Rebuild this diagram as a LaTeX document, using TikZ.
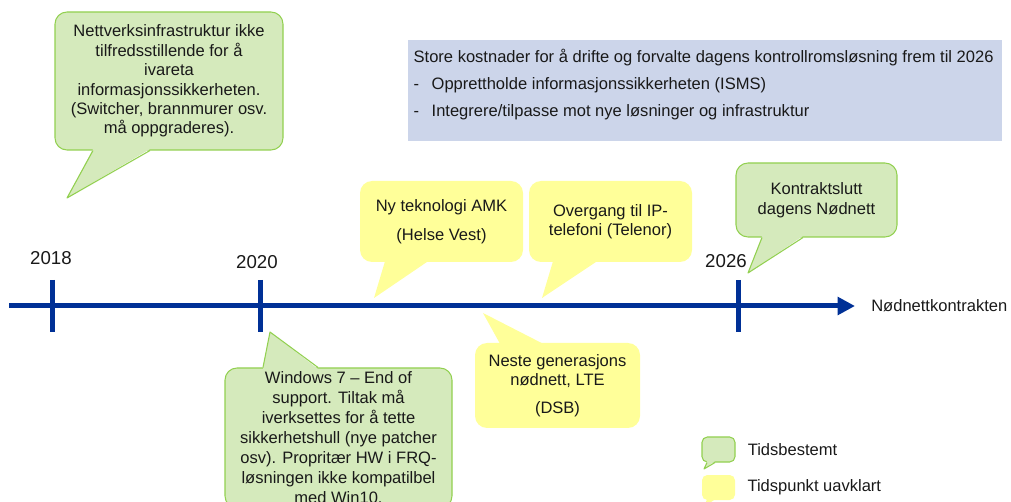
\documentclass[tikz,border=0pt]{standalone}
\usepackage{fontspec}
\setmainfont{Liberation Sans}
\usetikzlibrary{positioning, calc, arrows.meta}
\definecolor{tidsgreen}{RGB}{146,208,80}
\definecolor{tidsfill}{RGB}{213,234,188}
\definecolor{uavfill}{RGB}{255,255,153}
\definecolor{costblue}{RGB}{204,213,234}
\definecolor{lineblue}{RGB}{0,48,150}
\definecolor{textgray}{RGB}{25,25,25}

\begin{document}
\begin{tikzpicture}[
    x=0.75pt, y=-0.75pt,
    font=\fontsize{12.4}{14.6}\selectfont, text=textgray,
    tidsbox/.style={rectangle, draw=tidsgreen, fill=tidsfill, line width=0.8pt, rounded corners=9pt, align=center, inner sep=2pt},
    uavbox/.style={rectangle, fill=uavfill, rounded corners=9pt, align=center, inner sep=2pt},
    costbox/.style={rectangle, fill=costblue, minimum width=445.5pt, minimum height=75.75pt, inner xsep=4.25pt, inner ysep=3.9pt},
    tidstail/.style={fill=tidsfill},
    tidsedge/.style={draw=tidsgreen, line width=0.8pt, line join=round},
    uavtail/.style={fill=uavfill},
    plainlabel/.style={inner sep=0pt},
    yearlabel/.style={inner sep=0pt, font=\fontsize{14}{16}\selectfont},
    tickline/.style={lineblue, line width=3.75pt},
    timeline/.style={lineblue, line width=3.75pt, -{Triangle[length=13pt, width=13pt]}}
]
    \useasboundingbox (0,0) rectangle (1011,502);
    \clip (0,0) rectangle (1011,502);

    % tidslinje
    \coordinate (tlstart) at (9,306);
    \coordinate (tlend) at (855,306);
    \coordinate (t2018) at (52,306);
    \coordinate (t2020) at (260,306);
    \coordinate (t2026) at (738,306);
    \draw[timeline] (tlstart) -- (tlend);
    \draw[tickline] ($(t2018)+(0,-26)$) -- ($(t2018)+(0,26)$);
    \draw[tickline] ($(t2020)+(0,-26)$) -- ($(t2020)+(0,26)$);
    \draw[tickline] ($(t2026)+(0,-26)$) -- ($(t2026)+(0,26)$);
    \node[yearlabel] (y2018) at (51,258) {2018};
    \node[yearlabel] (y2020) at (257,262) {2020};
    \node[yearlabel] (y2026) at (726,261) {2026};
    \node[plainlabel, right=12pt of tlend] (kontrakt) {Nødnettkontrakten};

    % kostnader
    \node[costbox] (cost) at (705,90.5) {\parbox[c][68pt][t]{437pt}{\rule{0pt}{13pt}Store kostnader for å drifte og forvalte dagens kontrollromsløsning frem til 2026\\[5.5pt]
        \makebox[13.5pt][l]{-}Opprettholde informasjonssikkerheten (ISMS)\\[5.5pt]
        \makebox[13.5pt][l]{-}Integrere/tilpasse mot nye løsninger og infrastruktur}};

    % boblene over linjen
    \node[tidsbox, minimum width=171pt, minimum height=103.5pt] (netbox) at (169,81) {Nettverksinfrastruktur ikke\\tilfredsstillende for å\\ivareta\\informasjonssikkerheten.\\(Switcher, brannmurer osv.\\må oppgraderes).};
    \coordinate (nettip) at (67,198);
    \fill[tidstail] ($(netbox.south)+(-76,-1.5)$) -- (nettip) -- ($(netbox.south)+(-19,-1.5)$) -- cycle;
    \draw[tidsedge] ($(netbox.south)+(-76,0)$) -- (nettip) -- ($(netbox.south)+(-19,0)$);

    \node[uavbox, minimum width=122.25pt, minimum height=60.75pt] (amkbox) at (441.5,221.5) {Ny teknologi AMK\\[7pt](Helse Vest)};
    \coordinate (amktip) at (374,298);
    \fill[uavtail] ($(amkbox.south)+(-56.5,-1)$) -- (amktip) -- ($(amkbox.south)+(-13.5,-1)$) -- cycle;

    \node[uavbox, minimum width=122.25pt, minimum height=60.75pt] (ipbox) at (610.5,221.5) {Overgang til IP-\\telefoni (Telenor)};
    \coordinate (iptip) at (542,298);
    \fill[uavtail] ($(ipbox.south)+(-57.5,-1)$) -- (iptip) -- ($(ipbox.south)+(-13.5,-1)$) -- cycle;

    \node[tidsbox, minimum width=120.75pt, minimum height=55.5pt] (slutbox) at (816.5,200) {Kontraktslutt\\dagens Nødnett};
    \coordinate (sluttip) at (748,273);
    \fill[tidstail] ($(slutbox.south)+(-54.5,-1.5)$) -- (sluttip) -- ($(slutbox.south)+(-13.5,-1.5)$) -- cycle;
    \draw[tidsedge] ($(slutbox.south)+(-54.5,0)$) -- (sluttip) -- ($(slutbox.south)+(-13.5,0)$);

    % boblene under linjen
    \node[tidsbox, minimum width=170.25pt, minimum height=105pt, inner sep=1pt, font=\fontsize{12.4}{15}\selectfont] (winbox) at (338.5,438) {Windows 7 -- End of\\support. Tiltak må\\iverksettes for å tette\\sikkerhetshull (nye patcher\\osv). Propritær HW i FRQ-\\løsningen ikke kompatilbel\\med Win10.};
    \coordinate (wintip) at (270,332);
    \fill[tidstail] ($(winbox.north)+(-75.5,1.5)$) -- (wintip) -- ($(winbox.north)+(-20.5,1.5)$) -- cycle;
    \draw[tidsedge] ($(winbox.north)+(-75.5,0)$) -- (wintip) -- ($(winbox.north)+(-20.5,0)$);

    \node[uavbox, minimum width=123.75pt, minimum height=63.75pt] (ltebox) at (557.5,385.5) {Neste generasjons\\nødnett, LTE\\[6pt](DSB)};
    \coordinate (ltetip) at (483,313);
    \fill[uavtail] ($(ltebox.north)+(-57.5,1)$) -- (ltetip) -- ($(ltebox.north)+(-14.5,1)$) -- cycle;

    % forklaring
    \node[tidsbox, rounded corners=4pt, minimum width=24.75pt, minimum height=18.75pt, inner sep=0pt] (legtids) at (718.5,449.5) {};
    \coordinate (legtidstip) at (704,469);
    \fill[tidstail] ($(legtids.south)+(-11.5,-1.5)$) -- (legtidstip) -- ($(legtids.south)+(-3.5,-1.5)$) -- cycle;
    \draw[tidsedge] ($(legtids.south)+(-11.5,0)$) -- (legtidstip) -- ($(legtids.south)+(-3.5,0)$);
    \node[plainlabel, right=9pt of legtids] (legtidstext) {Tidsbestemt};

    \node[uavbox, rounded corners=4pt, minimum width=24.75pt, minimum height=18.75pt, inner sep=0pt] (leguav) at (718.5,487.5) {};
    \coordinate (leguavtip) at (704,507);
    \fill[uavtail] ($(leguav.south)+(-11.5,-1)$) -- (leguavtip) -- ($(leguav.south)+(-3.5,-1)$) -- cycle;
    \node[plainlabel, right=9pt of leguav] (leguavtext) {Tidspunkt uavklart};
\end{tikzpicture}
\end{document}
